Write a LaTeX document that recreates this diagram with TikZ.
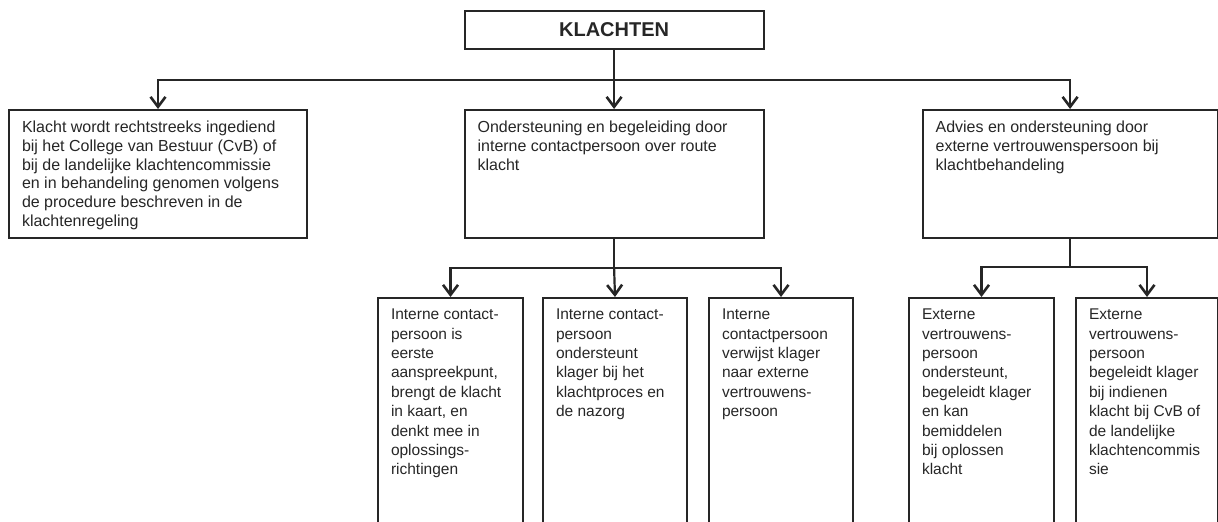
\documentclass[tikz,border=0pt]{standalone}
\usepackage{fontspec}
\setmainfont{Liberation Sans}
\usetikzlibrary{arrows.meta}
\usetikzlibrary{calc}

% text block at the top of a box: width, height, text
\newcommand{\boxtxt}[3]{\parbox[t][#2][t]{#1}{\raggedright\hyphenpenalty=10000\exhyphenpenalty=10000 #3}}

\tikzset{
  kbox/.style={draw=black!85, line width=2pt, anchor=north west, inner xsep=13pt, inner ysep=11pt, text=black!85},
  lijn/.style={draw=black!85, line width=2.2pt},
  pijl/.style={lijn, -{Straight Barb[length=10pt,width=15pt,line width=2.6pt]}},
}

\begin{document}
\begin{tikzpicture}[x=1pt,y=-1pt]
\path[use as bounding box] (0,0) rectangle (1218,522);
\clip (0,0) rectangle (1218,522);
% top
\node[kbox, minimum width=299pt, minimum height=38pt, font=\bfseries\fontsize{20}{24}\selectfont] (klachten) at (463.6,10) {KLACHTEN};
% first row
\begin{scope}[font=\fontsize{16}{18.8}\selectfont]
\node[kbox] (direct) at (8,109) {\boxtxt{272pt}{106pt}{Klacht wordt rechtstreeks ingediend\\ bij het College van Bestuur (CvB) of\\ bij de landelijke klachtencommissie\\ en in behandeling genomen volgens\\ de procedure beschreven in de\\ klachtenregeling}};
\node[kbox] (intern) at (463.6,109) {\boxtxt{273pt}{106pt}{Ondersteuning en begeleiding door\\ interne contactpersoon over route\\ klacht}};
\node[kbox] (extern) at (921.6,109) {\boxtxt{269pt}{106pt}{Advies en ondersteuning door\\ externe vertrouwenspersoon bij\\ klachtbehandeling}};
\end{scope}
% second row
\begin{scope}[font=\fontsize{15.5}{19.4}\selectfont]
\node[kbox] (icpA) at (377,297) {\boxtxt{119pt}{250pt}{Interne contact-\\ persoon is\\ eerste\\ aanspreekpunt,\\ brengt de klacht\\ in kaart, en\\ denkt mee in\\ oplossings-\\ richtingen}};
\node[kbox] (icpB) at (542,297) {\boxtxt{118pt}{250pt}{Interne contact-\\ persoon\\ ondersteunt\\ klager bij het\\ klachtproces en\\ de nazorg}};
\node[kbox] (icpC) at (708,297) {\boxtxt{118pt}{250pt}{Interne\\ contactpersoon\\ verwijst klager\\ naar externe\\ vertrouwens-\\ persoon}};
\node[kbox] (evpA) at (908,297) {\boxtxt{119pt}{250pt}{Externe\\ vertrouwens-\\ persoon\\ ondersteunt,\\ begeleidt klager\\ en kan\\ bemiddelen\\ bij oplossen\\ klacht}};
\node[kbox] (evpB) at (1075,297) {\boxtxt{116pt}{250pt}{Externe\\ vertrouwens-\\ persoon\\ begeleidt klager\\ bij indienen\\ klacht bij CvB of\\ de landelijke\\ klachtencommis\\ sie}};
\end{scope}
% connectors
\coordinate (bus1) at ($(klachten.south)+(0,30)$);
\draw[lijn] (klachten.south) -- (bus1);
\draw[pijl] (bus1) -| (direct.north);
\draw[pijl] (bus1) -- (intern.north);
\draw[pijl] (bus1) -| (extern.north);
\coordinate (bus2) at ($(intern.south)+(0,29)$);
\draw[lijn] (intern.south) -- (bus2);
\draw[pijl] (bus2) -| (icpA.north);
\draw[pijl] (bus2) -- (icpB.north);
\draw[pijl] (bus2) -| (icpC.north);
\coordinate (bus3) at ($(extern.south)+(0,28)$);
\draw[lijn] (extern.south) -- (bus3);
\draw[pijl] (bus3) -| (evpA.north);
\draw[pijl] (bus3) -| (evpB.north);
\end{tikzpicture}
\end{document}
